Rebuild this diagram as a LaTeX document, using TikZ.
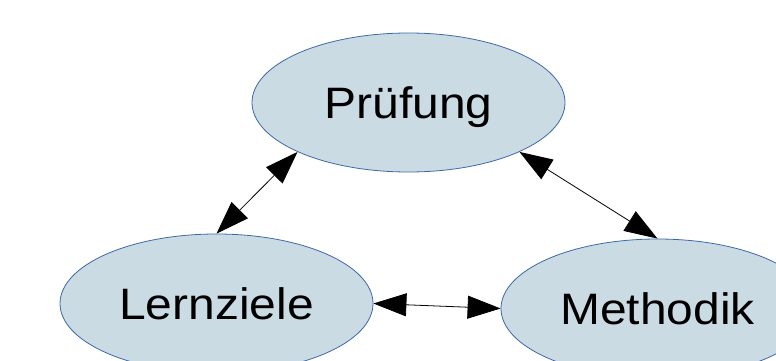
\documentclass[tikz,border=0pt]{standalone}
\usepackage{fontspec}
\setmainfont{Liberation Sans}[FakeStretch=1.09]
\usetikzlibrary{shapes.geometric,arrows.meta}
\definecolor{bubblefill}{RGB}{203,219,228}
\definecolor{bubbleline}{RGB}{60,104,170}
\tikzset{
  bubble/.style={ellipse, draw=bubbleline, line width=0.8pt, fill=bubblefill,
    minimum width=313pt, minimum height=139pt, inner sep=0pt,
    font=\fontsize{44pt}{50pt}\selectfont, text height=31.5pt, text depth=0pt},
  link/.style={line width=0.8pt, {Triangle[length=33pt,width=23pt]}-{Triangle[length=33pt,width=23pt]}}
}
\begin{document}
\begin{tikzpicture}[x=1pt,y=-1pt]
  \useasboundingbox (0,0) rectangle (776,361);
  \clip (0,0) rectangle (776,361);
  \node[bubble] (pruefung) at (408.5,102.5) {Prüfung};
  \node[bubble] (lernziele) at (216.5,303.5) {Lernziele};
  \node[bubble] (methodik) at (657.5,308.5) {Methodik};
  \draw[link] (pruefung.204) -- (lernziele.90);
  \draw[link] (pruefung.336) -- (methodik.90);
  \draw[link] (lernziele.0) -- (methodik.180);
\end{tikzpicture}
\end{document}
